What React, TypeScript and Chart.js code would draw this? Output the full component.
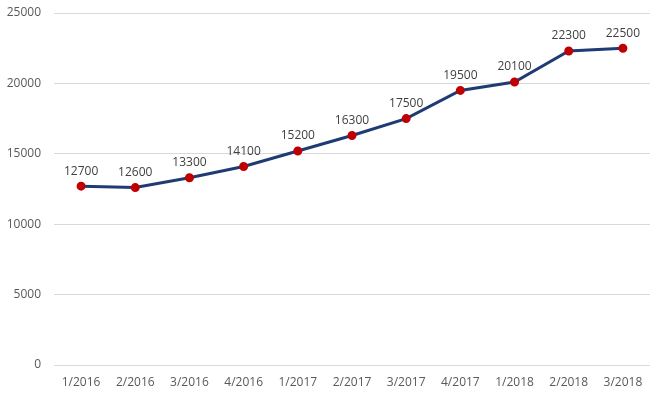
import React, { useEffect, useRef } from "react";
import { Chart, registerables } from "chart.js";

Chart.register(...registerables);

const categories = ["1/2016", "2/2016", "3/2016", "4/2016", "1/2017", "2/2017", "3/2017", "4/2017", "1/2018", "2/2018", "3/2018"];
const values = [12700, 12600, 13300, 14100, 15200, 16300, 17500, 19500, 20100, 22300, 22500];
const yTicks = [0, 5000, 10000, 15000, 20000, 25000];

const FONT = "'Open Sans', 'Noto Sans', sans-serif";

const dataLabelPlugin = {
  id: "dataLabels",
  afterDatasetsDraw(chart: any) {
    const ctx = chart.ctx;
    const meta = chart.getDatasetMeta(0);
    ctx.save();
    ctx.font = `12px ${FONT}`;
    ctx.fillStyle = "#404040";
    ctx.textAlign = "center";
    ctx.textBaseline = "bottom";
    meta.data.forEach((pt: any, i: number) => {
      ctx.fillText(String(chart.data.datasets[0].data[i]), pt.x, pt.y - 9);
    });
    ctx.restore();
  },
};

export default function App() {
  const ref = useRef<HTMLCanvasElement>(null);
  useEffect(() => {
    document.body.style.margin = "0";
    const chart = new Chart(ref.current!, {
      type: "line",
      data: {
        labels: categories,
        datasets: [
          {
            data: values,
            borderColor: "#1F3B73",
            borderWidth: 3,
            pointBackgroundColor: "#C00000",
            pointBorderColor: "#C00000",
            pointRadius: 3,
            tension: 0,
          },
        ],
      },
      options: {
        animation: false,
        responsive: false,
        maintainAspectRatio: false,
        layout: { padding: { top: 13, right: 10, left: 0, bottom: 0 } },
        plugins: { legend: { display: false }, tooltip: { enabled: false } },
        scales: {
          x: {
            offset: true,
            grid: { display: false, drawTicks: false },
            border: { display: false },
            ticks: { color: "#595959", font: { family: FONT, size: 12 }, padding: 10, maxRotation: 0 },
            afterFit: (s: any) => { s.height = 30; },
          },
          y: {
            min: 0,
            max: 25000,
            afterBuildTicks: (s: any) => { s.ticks = yTicks.map((v) => ({ value: v })); },
            grid: { color: "#D9D9D9", lineWidth: 1, drawTicks: false },
            border: { display: false },
            ticks: { color: "#595959", font: { family: FONT, size: 12 }, padding: 13, callback: (v: any) => String(v) },
            afterFit: (s: any) => { s.width = 54; s.paddingTop = 0; s.paddingBottom = 0; },
          },
        },
      },
      plugins: [dataLabelPlugin],
    });
    return () => chart.destroy();
  }, []);
  return (
    <div style={{ width: 660, height: 395 }}>
      <canvas ref={ref} width={660} height={395} />
    </div>
  );
}
